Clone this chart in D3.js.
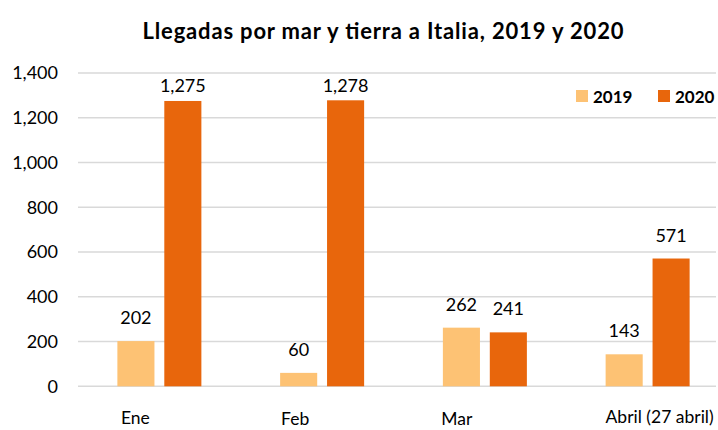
<!DOCTYPE html>
<html>
<head>
<meta charset="utf-8">
<script src="https://cdn.jsdelivr.net/npm/d3@7"></script>
<style>
  body { margin: 0; background: #fff; }
  svg { display: block; font-family: Lato, "Open Sans", sans-serif; }
</style>
</head>
<body>
<svg id="chart" width="718" height="430"></svg>
<script>
const months = ['Ene', 'Feb', 'Mar', 'Abril (27 abril)'];
const years = ['2019', '2020'];
const values2019 = [202, 60, 262, 143];
const values2020 = [1275, 1278, 241, 571];
const yTicks = [0, 200, 400, 600, 800, 1000, 1200, 1400];

const colors = { '2019': '#FDC274', '2020': '#E8660C' };
// small manual nudges for the month labels, like in the original
const labelDx = [-24, -27, -28, 12];
const labelY = [424, 425, 425, 423];

var svg = d3.select('#chart');
var data = months.map(function (m, i) {
    return { month: m, '2019': values2019[i], '2020': values2020[i] };
});

var xs = d3.scaleBand().domain(months).range([78, 729]);
var sub = d3.scaleBand().domain(years)
    .range([xs.bandwidth() / 2 - 42, xs.bandwidth() / 2 + 42])
    .paddingInner(0.21);
var ys = d3.scaleLinear().domain([0, 1400]).range([386.3, 73]);

// title
svg.append('text')
    .attr('x', 383).attr('y', 39)
    .attr('text-anchor', 'middle')
    .attr('font-size', 22).attr('font-weight', 'bold')
    .attr('textLength', 481).attr('lengthAdjust', 'spacing')
    .text('Llegadas por mar y tierra a Italia, 2019 y 2020');

// gridlines
svg.append('g').selectAll('line').data(yTicks).enter().append('line')
    .attr('x1', 78).attr('x2', 716)
    .attr('y1', function (d) { return ys(d); })
    .attr('y2', function (d) { return ys(d); })
    .attr('stroke', '#d9d9d9').attr('stroke-width', 1.5);

// y axis labels
var yAxis = svg.append('g')
    .attr('transform', 'translate(58,0)')
    .call(d3.axisLeft(ys).tickValues(yTicks).tickFormat(d3.format(',')).tickSize(0).tickPadding(0));
yAxis.select('.domain').remove();
yAxis.selectAll('text')
    .attr('font-size', 18).attr('fill', '#000')
    .style('font-family', 'Lato, "Open Sans", sans-serif');

// bars
var groups = svg.selectAll('g.month').data(data).enter().append('g')
    .attr('class', 'month')
    .attr('transform', function (d) { return 'translate(' + xs(d.month) + ',0)'; });

groups.selectAll('rect')
    .data(function (d) { return years.map(function (y) { return { year: y, value: d[y] }; }); })
    .enter().append('rect')
    .attr('x', function (d) { return sub(d.year); })
    .attr('width', sub.bandwidth())
    .attr('y', function (d) { return ys(d.value); })
    .attr('height', function (d) { return ys(0) - ys(d.value); })
    .attr('fill', function (d) { return colors[d.year]; });

groups.selectAll('text.val')
    .data(function (d) { return years.map(function (y) { return { year: y, value: d[y] }; }); })
    .enter().append('text')
    .attr('class', 'val')
    .attr('x', function (d) { return sub(d.year) + sub.bandwidth() / 2; })
    .attr('y', function (d) { return Math.max(ys(d.value) - 17, 92); })
    .attr('text-anchor', 'middle')
    .attr('font-size', 18)
    .text(function (d) { return d3.format(',')(d.value); });

// month labels
svg.append('g').selectAll('text').data(months).enter().append('text')
    .attr('x', function (d, i) { return xs(d) + xs.bandwidth() / 2 + labelDx[i]; })
    .attr('y', function (d, i) { return labelY[i]; })
    .attr('text-anchor', 'middle')
    .attr('font-size', 17.5)
    .text(function (d) { return d; });

// legend
var legend = svg.append('g').selectAll('g').data(years).enter().append('g')
    .attr('transform', function (d, i) { return 'translate(' + (576 + i * 82) + ',90)'; });
legend.append('rect')
    .attr('width', 12).attr('height', 12)
    .attr('fill', function (d) { return colors[d]; });
legend.append('text')
    .attr('x', 17).attr('y', 12.5)
    .attr('font-size', 17).attr('font-weight', 'bold')
    .text(function (d) { return d; });
</script>
</body>
</html>
